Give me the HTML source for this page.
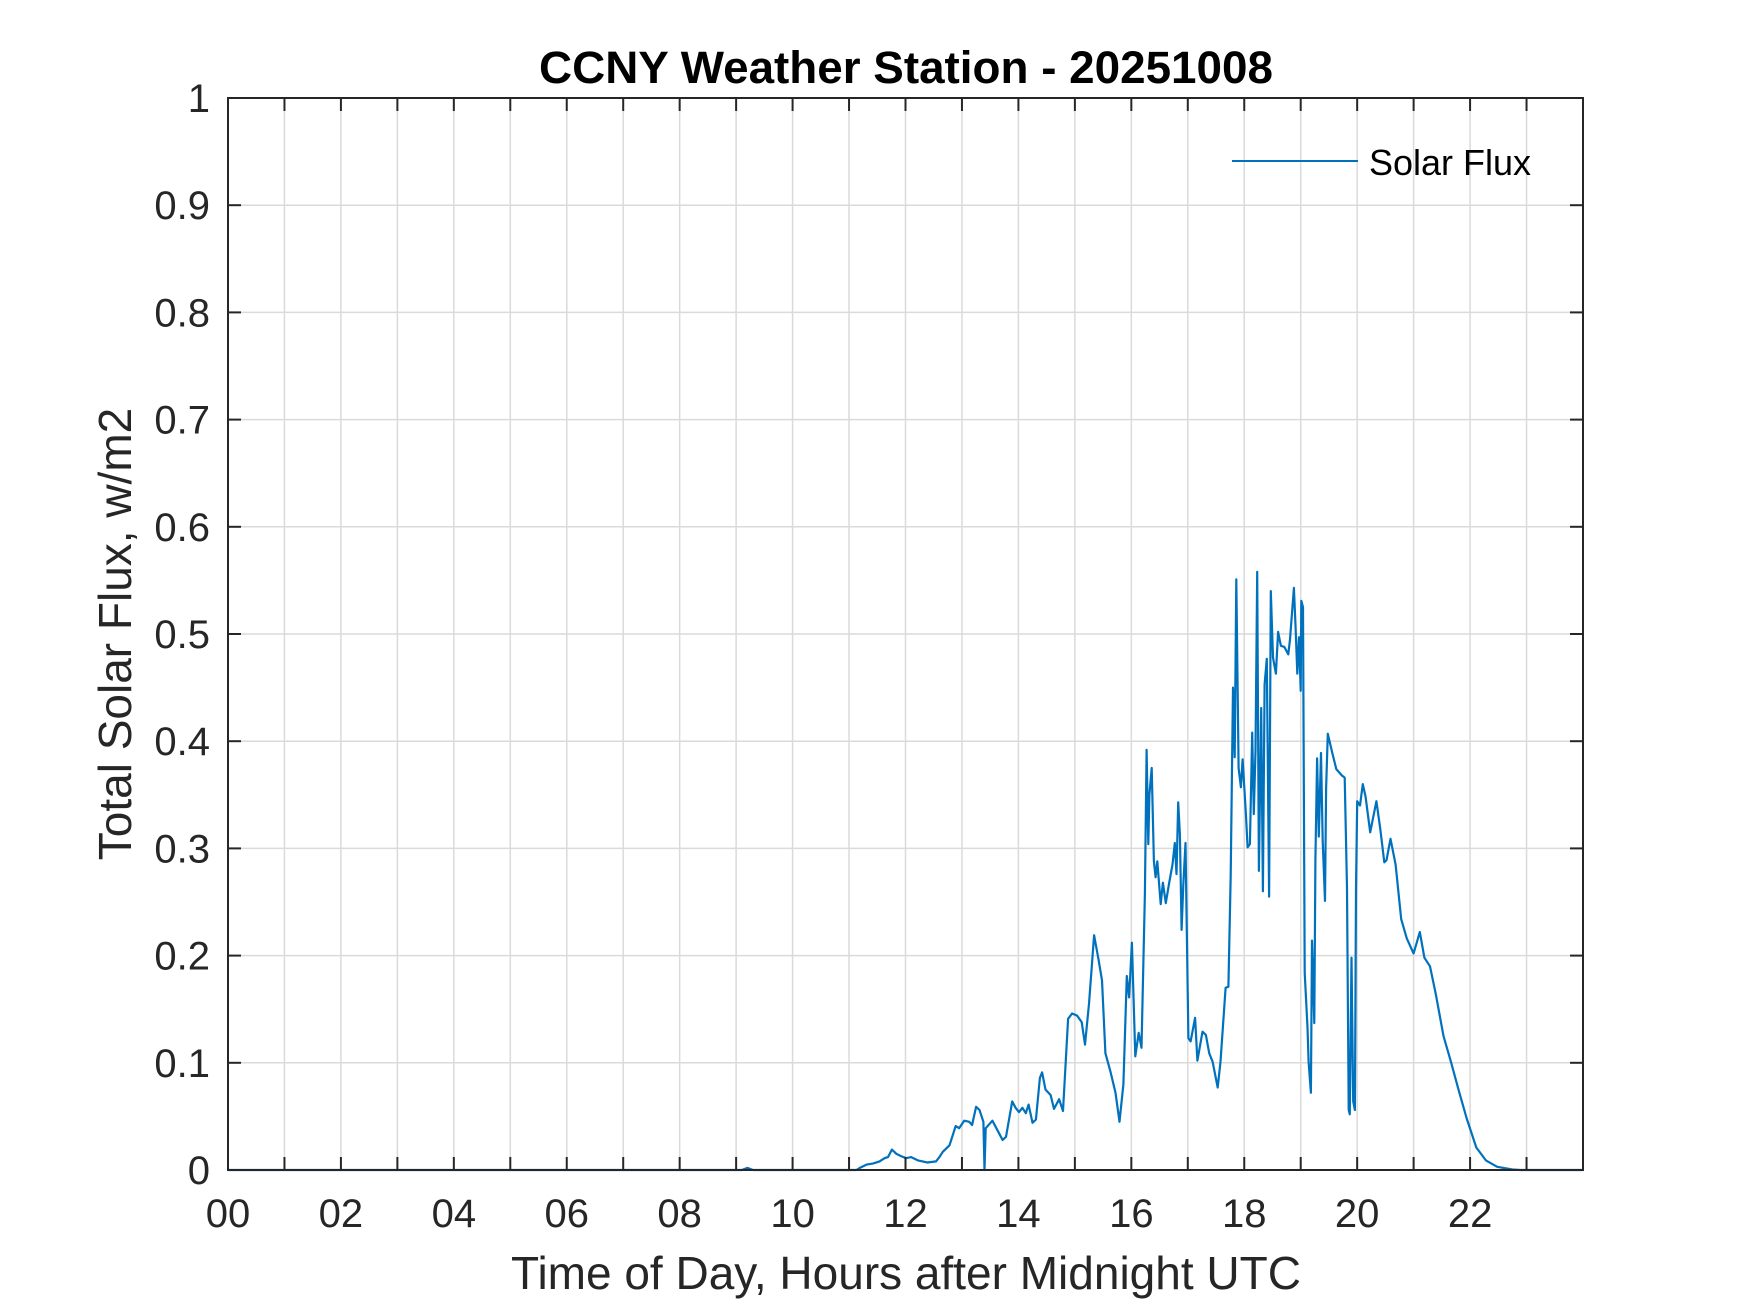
<!DOCTYPE html>
<html><head><meta charset="utf-8"><style>
html,body{margin:0;padding:0;background:#fff;}
svg{display:block;font-family:"Liberation Sans",Arial,sans-serif;}
</style></head><body>
<svg id="chart" width="1750" height="1313" viewBox="0 0 1750 1313" xmlns="http://www.w3.org/2000/svg">
<rect width="1750" height="1313" fill="#fff"/>
<g id="grid"></g>
<g id="series"></g>
<g id="axes"></g>
<text x="906" y="83" text-anchor="middle" font-size="45.8" font-weight="bold" fill="#000">CCNY Weather Station - 20251008</text>
<text x="906" y="1289" text-anchor="middle" font-size="46" fill="#262626">Time of Day, Hours after Midnight UTC</text>
<text transform="translate(131,634) rotate(-90)" text-anchor="middle" font-size="46" fill="#262626">Total Solar Flux, w/m2</text>
<g>
<line x1="1232" y1="161" x2="1358" y2="161" stroke="#0072BD" stroke-width="2"/>
<text x="1369" y="175" font-size="36" fill="#000">Solar Flux</text>
</g>
</svg>
<script>
const hours = [0,9.1,9.2,9.3,10.84,11.13,11.19,11.31,11.42,11.54,11.63,11.69,11.76,11.84,11.92,12.01,12.10,12.22,12.39,12.54,12.6,12.66,12.78,12.89,12.95,13.04,13.13,13.18,13.25,13.31,13.38,13.40,13.42,13.54,13.63,13.72,13.78,13.89,13.95,14.01,14.07,14.13,14.18,14.25,14.31,14.38,14.42,14.48,14.57,14.63,14.72,14.79,14.88,14.95,15.04,15.12,15.18,15.25,15.34,15.42,15.48,15.54,15.63,15.72,15.79,15.86,15.92,15.96,16.01,16.07,16.13,16.18,16.24,16.27,16.30,16.32,16.36,16.40,16.43,16.46,16.52,16.56,16.61,16.67,16.73,16.77,16.80,16.83,16.86,16.89,16.92,16.96,17.01,17.05,17.13,17.17,17.26,17.32,17.38,17.44,17.53,17.58,17.67,17.72,17.76,17.80,17.83,17.86,17.90,17.94,17.97,18.03,18.06,18.10,18.14,18.17,18.20,18.23,18.26,18.30,18.33,18.36,18.40,18.44,18.47,18.51,18.56,18.60,18.65,18.71,18.78,18.81,18.88,18.91,18.94,18.97,19.0,19.01,19.04,19.07,19.12,19.14,19.18,19.20,19.24,19.26,19.29,19.32,19.36,19.39,19.43,19.45,19.48,19.56,19.63,19.73,19.78,19.82,19.85,19.87,19.90,19.93,19.96,19.98,20.0,20.05,20.10,20.15,20.23,20.34,20.41,20.48,20.52,20.59,20.68,20.78,20.88,21.0,21.11,21.19,21.29,21.39,21.53,21.66,21.80,21.94,22.11,22.28,22.48,22.75,22.89,24];
const flux = [0,0,0.002,0,0,0,0.002,0.005,0.006,0.008,0.011,0.012,0.019,0.015,0.013,0.011,0.012,0.009,0.007,0.008,0.012,0.017,0.023,0.041,0.039,0.046,0.045,0.042,0.059,0.056,0.045,0,0.039,0.046,0.037,0.028,0.031,0.064,0.058,0.054,0.058,0.053,0.061,0.044,0.047,0.086,0.091,0.075,0.070,0.057,0.066,0.055,0.141,0.146,0.144,0.138,0.117,0.155,0.219,0.196,0.177,0.109,0.092,0.072,0.045,0.080,0.181,0.161,0.212,0.106,0.128,0.114,0.258,0.392,0.304,0.350,0.375,0.288,0.273,0.288,0.248,0.268,0.249,0.268,0.285,0.305,0.276,0.343,0.313,0.224,0.266,0.305,0.123,0.120,0.142,0.102,0.129,0.126,0.109,0.101,0.077,0.101,0.170,0.171,0.275,0.450,0.385,0.551,0.375,0.357,0.383,0.332,0.301,0.304,0.408,0.332,0.391,0.558,0.279,0.431,0.260,0.453,0.477,0.255,0.540,0.478,0.463,0.502,0.489,0.488,0.481,0.495,0.543,0.506,0.463,0.497,0.447,0.531,0.525,0.184,0.133,0.101,0.072,0.214,0.137,0.289,0.384,0.311,0.389,0.307,0.251,0.356,0.407,0.389,0.374,0.368,0.366,0.263,0.056,0.052,0.198,0.064,0.056,0.263,0.344,0.340,0.360,0.348,0.315,0.344,0.318,0.287,0.289,0.309,0.285,0.234,0.216,0.202,0.222,0.198,0.190,0.165,0.125,0.101,0.074,0.048,0.021,0.009,0.003,0.0005,0,0];
const xTickLabels = ["00","02","04","06","08","10","12","14","16","18","20","22"];
const yTickLabels = ["0","0.1","0.2","0.3","0.4","0.5","0.6","0.7","0.8","0.9","1"];

const L=228,R=1583,T=98,B=1170;
const xS=h=>L+(h/24)*(R-L);
const yS=v=>B-v*(B-T);
const NS="http://www.w3.org/2000/svg";
function mk(tag,attrs,parent){const e=document.createElementNS(NS,tag);for(const k in attrs)e.setAttribute(k,attrs[k]);parent.appendChild(e);return e;}
const grid=document.getElementById('grid'),axes=document.getElementById('axes'),series=document.getElementById('series');
for(let h=1;h<24;h++){
  const x=xS(h);
  const g=mk('line',{x1:x,y1:T,x2:x,y2:B,stroke:'#dadada','stroke-width':1.5},grid);
  
  
  const t1=mk('line',{x1:x,y1:B,x2:x,y2:B-13,stroke:'#262626','stroke-width':2},axes);
  
  
  const t2=mk('line',{x1:x,y1:T,x2:x,y2:T+13,stroke:'#262626','stroke-width':2},axes);
  
  
}
xTickLabels.forEach((s,i)=>{
  const t=mk('text',{x:xS(i*2),y:1227,'text-anchor':'middle','font-size':40,fill:'#262626'},axes);
  t.textContent=s;
  
  
});
yTickLabels.forEach((s,i)=>{
  const v=parseFloat(s),y=yS(v);
  if(i>0&&i<10){
    const g=mk('line',{x1:L,y1:y,x2:R,y2:y,stroke:'#dadada','stroke-width':1.5},grid);
    
    
    const t1=mk('line',{x1:L,y1:y,x2:L+13,y2:y,stroke:'#262626','stroke-width':2},axes);
    
    
    const t2=mk('line',{x1:R,y1:y,x2:R-13,y2:y,stroke:'#262626','stroke-width':2},axes);
    
    
  }
  const t=mk('text',{x:210,y:y+14,'text-anchor':'end','font-size':40,fill:'#262626'},axes);
  t.textContent=s;
  
  
});
const box=mk('rect',{x:L,y:T,width:R-L,height:B-T,fill:'none',stroke:'#262626','stroke-width':2},axes);


const pts=hours.map((h,i)=>xS(h).toFixed(1)+','+yS(flux[i]).toFixed(1)).join(' ');
const line=mk('polyline',{points:pts,fill:'none',stroke:'#0072BD','stroke-width':2.2,'stroke-linejoin':'round'},series);


</script>
</body></html>
